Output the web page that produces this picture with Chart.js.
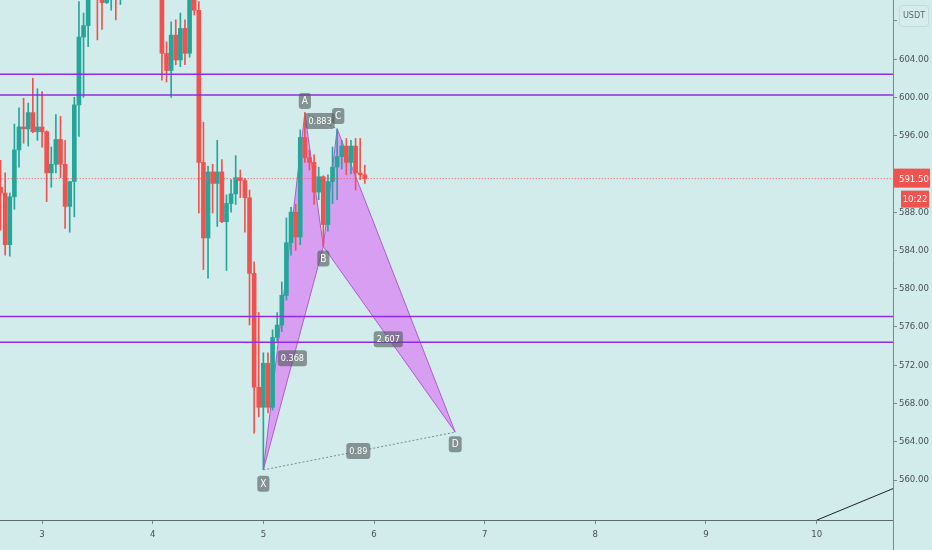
<!DOCTYPE html>
<html>
<head>
<meta charset="utf-8">
<script src="https://cdn.jsdelivr.net/npm/chart.js@4.4.0/dist/chart.umd.min.js"></script>
<style>
  html, body { margin: 0; padding: 0; background: #d2ecec; }
  #wrap { width: 932px; height: 550px; position: relative; }
</style>
</head>
<body>
<div id="wrap"><canvas id="chart" width="932" height="550"></canvas></div>
<script>
// hourly candles; time axis in days, first candle = day 2, hour 15
const firstHour = 15;
const opens = [
    590.6, 590.0, 584.6, 589.6, 594.5, 596.9, 596.7, 598.4, 596.4, 596.9,
    596.4, 592.1, 593.0, 595.6, 593.0, 588.6, 591.2, 599.2, 606.3, 607.5,
    611.2, 613.0, 611.0, 609.9, 611.5, 613.0, 611.8, 613.5, 614.8, 613.6,
    615.2, 614.0, 615.5, 614.2, 613.6, 614.4, 604.6, 602.8, 606.5, 603.9,
    607.2, 604.6, 611.5, 609.1, 593.2, 585.3, 592.2, 591.0, 592.2, 587.0,
    588.9, 589.9, 591.6, 591.3, 589.5, 581.6, 569.7, 567.6, 572.2, 567.6,
    574.9, 576.2, 579.3, 584.8, 588.0, 585.4, 595.8, 593.7, 593.2, 590.1,
    591.7, 586.7, 591.2, 592.7, 593.8, 594.9, 593.2, 594.9, 592.1, 591.9
];
const highs = [
    593.4, 592.1, 590.0, 597.2, 598.9, 599.9, 599.4, 602.0, 600.9, 600.6,
    596.5, 594.8, 598.2, 598.0, 595.5, 591.2, 600.0, 610.0, 608.8, 612.0,
    614.5, 615.0, 612.0, 613.0, 614.5, 614.0, 615.0, 616.0, 616.2, 616.5,
    616.8, 617.0, 616.6, 615.5, 615.8, 615.0, 605.8, 607.9, 608.1, 608.8,
    608.1, 612.5, 612.0, 610.0, 597.4, 592.8, 593.0, 595.5, 593.5, 589.8,
    591.4, 593.9, 592.4, 591.5, 590.3, 582.8, 577.5, 573.3, 573.3, 575.7,
    577.5, 580.7, 587.4, 588.5, 588.8, 596.6, 598.4, 594.5, 594.0, 592.7,
    591.8, 591.9, 594.8, 596.7, 595.5, 595.7, 595.5, 595.7, 595.7, 592.9
];
const lows = [
    586.1, 583.5, 583.4, 588.3, 592.7, 595.2, 594.9, 596.3, 595.5, 594.8,
    589.1, 590.6, 592.1, 591.6, 586.3, 585.9, 587.5, 595.9, 600.0, 605.3,
    610.6, 606.0, 607.1, 609.8, 609.1, 608.1, 609.7, 612.5, 612.8, 612.9,
    613.1, 613.2, 612.9, 611.8, 611.5, 601.8, 601.6, 600.0, 603.4, 603.2,
    603.4, 604.2, 608.6, 587.9, 582.0, 581.1, 587.9, 586.5, 586.9, 581.9,
    588.0, 588.8, 589.5, 585.9, 576.2, 564.9, 566.6, 561.1, 567.0, 567.3,
    574.5, 575.5, 578.8, 583.5, 584.0, 584.6, 593.2, 592.4, 588.8, 589.3,
    584.4, 586.0, 588.9, 589.3, 592.5, 591.9, 592.0, 590.3, 591.4, 591.0
];
const closes = [
    590.0, 584.6, 589.6, 594.5, 596.9, 596.7, 598.4, 596.4, 596.9, 596.4,
    592.1, 593.0, 595.6, 593.0, 588.6, 591.2, 599.2, 606.3, 607.5, 611.2,
    613.0, 611.0, 609.9, 611.5, 613.0, 611.8, 613.5, 614.8, 613.6, 615.2,
    614.0, 615.5, 614.2, 613.6, 614.4, 604.6, 602.8, 606.5, 603.9, 607.2,
    604.6, 611.5, 609.1, 593.2, 585.3, 592.2, 591.0, 592.2, 587.0, 588.9,
    589.9, 591.6, 591.3, 589.5, 581.6, 569.7, 567.6, 572.2, 567.6, 574.9,
    576.2, 579.3, 584.8, 588.0, 585.4, 595.8, 593.7, 593.2, 590.1, 591.7,
    586.7, 591.2, 592.7, 593.8, 594.9, 593.2, 594.9, 592.1, 591.9, 591.5
];

const xTicks = [3, 4, 5, 6, 7, 8, 9, 10];
const yTicks = [560, 564, 568, 572, 576, 580, 584, 588, 592, 596, 600, 604, 608];
const levels = [602.41, 600.24, 577.08, 574.40];
const lastPrice = 591.5;
const lastPriceText = '591.50';
const countdownText = '10:22';

// XABCD pattern
const pointNames = ['X', 'A', 'B', 'C', 'D'];
const pointTimes = [5.0, 5.375, 5.542, 5.667, 6.734];
const pointPrices = [561.06, 598.36, 584.4, 596.7, 565.0];
const ratioText = ['0.368', '0.883', '2.607', '0.89']; // XB, AC, BD, XD

const trendTimes = [10.0, 10.69];
const trendPrices = [555.8, 559.1];

const GREEN = '#26a69a';
const RED = '#ef5350';
const FONT = "'DejaVu Sans Condensed', 'DejaVu Sans', sans-serif";

const times = opens.map((o, i) => 2 + (firstHour + i) / 24);
const candleColor = (i) => closes[i] >= opens[i] ? GREEN : RED;
const pt = (i) => ({ x: pointTimes[i], y: pointPrices[i] });

const datasets = [];

datasets.push({
    type: 'bar',
    label: 'wicks',
    data: times.map((t, i) => ({ x: t, y: [lows[i], highs[i]] })),
    backgroundColor: times.map((t, i) => candleColor(i)),
    barThickness: 1,
    grouped: false,
    order: 2
});
datasets.push({
    type: 'bar',
    label: 'bodies',
    data: times.map((t, i) => ({ x: t, y: [opens[i], closes[i]] })),
    backgroundColor: times.map((t, i) => candleColor(i)),
    barThickness: 4,
    grouped: false,
    order: 2
});

// pattern triangles XAB and BCD
[[0, 1, 2], [2, 3, 4]].forEach(function(tri) {
    datasets.push({
        type: 'line',
        data: [pt(tri[0]), pt(tri[1]), pt(tri[2]), pt(tri[0])],
        fill: 'shape',
        backgroundColor: 'rgba(224, 64, 251, 0.45)',
        borderColor: 'rgba(170, 80, 200, 0.9)',
        borderWidth: 1,
        pointRadius: 0,
        tension: 0,
        order: 3
    });
});
// dotted AC and XD
[[1, 3], [0, 4]].forEach(function(pair) {
    datasets.push({
        type: 'line',
        data: [pt(pair[0]), pt(pair[1])],
        borderColor: 'rgba(110, 130, 130, 0.9)',
        borderWidth: 1,
        borderDash: [2, 2],
        pointRadius: 0,
        fill: false,
        order: 1
    });
});

// horizontal levels
levels.forEach(function(v) {
    datasets.push({
        type: 'line',
        data: [{ x: 2.5, y: v }, { x: 11, y: v }],
        borderColor: '#8e2de2',
        borderWidth: 1.5,
        pointRadius: 0,
        fill: false,
        order: 0
    });
});

// last price line
datasets.push({
    type: 'line',
    data: [{ x: 2.5, y: lastPrice }, { x: 11, y: lastPrice }],
    borderColor: RED,
    borderWidth: 1,
    borderDash: [1, 2],
    pointRadius: 0,
    fill: false,
    order: 1
});

// trend line bottom right
datasets.push({
    type: 'line',
    data: trendTimes.map((t, i) => ({ x: t, y: trendPrices[i] })),
    borderColor: '#1e2222',
    borderWidth: 1,
    pointRadius: 0,
    fill: false,
    order: 0
});

function box(ctx, cx, cy, text, fill, size) {
    ctx.font = size + 'px ' + FONT;
    const w = Math.max(12, ctx.measureText(text).width + 6);
    const h = 16;
    ctx.fillStyle = fill;
    ctx.beginPath();
    ctx.roundRect(cx - w / 2, cy - h / 2, w, h, 3);
    ctx.fill();
    ctx.fillStyle = '#ffffff';
    ctx.textAlign = 'center';
    ctx.textBaseline = 'middle';
    ctx.fillText(text, cx, cy + 0.5);
}

const overlay = {
    id: 'overlay',
    afterDatasetsDraw(chart) {
        const ctx = chart.ctx;
        const xs = chart.scales.x, ys = chart.scales.y;
        const px = (i) => xs.getPixelForValue(pointTimes[i]);
        const py = (i) => ys.getPixelForValue(pointPrices[i]);
        const labelFill = 'rgba(78, 86, 86, 0.6)';
        ctx.save();
        // ratio labels at midpoints
        const pairs = [[0, 2], [1, 3], [2, 4], [0, 4]];
        pairs.forEach(function(p, k) {
            box(ctx, (px(p[0]) + px(p[1])) / 2 - 1, (py(p[0]) + py(p[1])) / 2, ratioText[k], labelFill, 9);
        });
        // point letters
        const dy = [14, -12, 12, -13, 12];
        pointNames.forEach(function(n, i) {
            box(ctx, px(i) + (n === 'C' ? 1 : 0), py(i) + dy[i], n, labelFill, 10);
        });
        ctx.restore();
    },
    afterDraw(chart) {
        const ctx = chart.ctx;
        const ys = chart.scales.y;
        const a = chart.chartArea;
        ctx.save();
        // axis line continues through the time axis
        ctx.strokeStyle = '#7d8a8a';
        ctx.lineWidth = 1;
        ctx.beginPath();
        ctx.moveTo(a.right + 0.5, a.bottom);
        ctx.lineTo(a.right + 0.5, 550);
        ctx.stroke();
        // currency box
        ctx.fillStyle = '#d6eded';
        ctx.strokeStyle = '#c2dada';
        ctx.beginPath();
        ctx.roundRect(899.5, 5.5, 29, 21, 3);
        ctx.fill();
        ctx.stroke();
        ctx.fillStyle = '#5d6666';
        ctx.font = '9px ' + FONT;
        ctx.textAlign = 'center';
        ctx.textBaseline = 'middle';
        ctx.fillText('USDT', 914, 16);
        // last price + countdown
        const y = ys.getPixelForValue(lastPrice);
        ctx.fillStyle = RED;
        ctx.fillRect(a.right + 1, y - 10, 932 - a.right - 3, 19);
        ctx.fillRect(901, y + 12, 28, 17);
        ctx.fillStyle = '#ffffff';
        ctx.font = '9.5px ' + FONT;
        ctx.textAlign = 'left';
        ctx.fillText(lastPriceText, 899, y + 0.5);
        ctx.textAlign = 'center';
        ctx.fillText(countdownText, 915, y + 20.5);
        ctx.restore();
    }
};

new Chart(document.getElementById('chart').getContext('2d'), {
    type: 'bar',
    data: { datasets: datasets },
    options: {
        responsive: false,
        animation: false,
        layout: { padding: 0 },
        plugins: {
            legend: { display: false },
            tooltip: { enabled: false }
        },
        scales: {
            x: {
                type: 'linear',
                offset: false,
                min: 2.62,
                max: 10.69,
                afterBuildTicks: (s) => { s.ticks = xTicks.map(v => ({ value: v })); },
                afterFit: (s) => { s.height = 30; s.paddingLeft = 0; s.paddingRight = 0; },
                border: { color: '#5f6b6b', width: 1 },
                grid: { offset: false, drawOnChartArea: false, tickLength: 4, color: '#7d8a8a' },
                ticks: {
                    color: '#4a5050',
                    padding: 5,
                    maxRotation: 0,
                    font: { family: FONT, size: 9.5 },
                    callback: (v) => String(v)
                }
            },
            y: {
                type: 'linear',
                position: 'right',
                min: 555.82,
                max: 610.17,
                afterBuildTicks: (s) => { s.ticks = yTicks.map(v => ({ value: v })); },
                afterFit: (s) => { s.width = 39; s.paddingTop = 0; s.paddingBottom = 0; },
                border: { color: '#7d8a8a', width: 1 },
                grid: { drawOnChartArea: false, tickLength: 4, color: '#7d8a8a' },
                ticks: {
                    color: '#4a5050',
                    padding: 2,
                    font: { family: FONT, size: 9.5 },
                    callback: (v) => v.toFixed(2)
                }
            }
        }
    },
    plugins: [overlay]
});
</script>
</body>
</html>
